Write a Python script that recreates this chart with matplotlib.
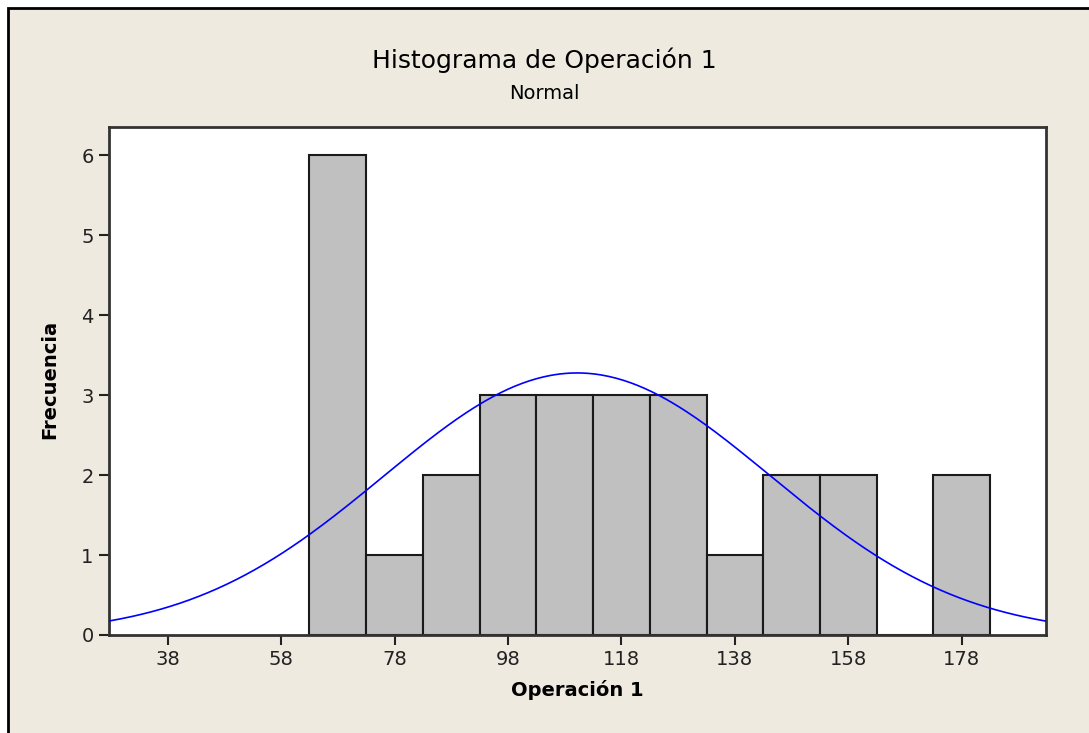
import numpy as np
from matplotlib import pyplot as plt
from matplotlib.patches import Rectangle

# histogram bins (midpoints, width 10) and counts
bin_mids = [68, 78, 88, 98, 108, 118, 128, 138, 148, 158, 168, 178]
counts = [6, 1, 2, 3, 3, 3, 3, 1, 2, 2, 0, 2]
bin_width = 10

# fitted normal curve parameters
fit_mean = 110.2
fit_sd = 34.1

xticks = [38, 58, 78, 98, 118, 138, 158, 178]
yticks = [0, 1, 2, 3, 4, 5, 6]

beige = "#EEEAE0"

fig = plt.figure(figsize=(10.89, 7.33), dpi=100)
fig.patch.set_facecolor("white")
# outer panel with black line on top and left
fig.patches.append(Rectangle((8 / 1089, -0.05), 1.1, (733 - 8) / 733 + 0.05,
                             transform=fig.transFigure, facecolor=beige,
                             edgecolor="black", linewidth=2, zorder=-10))

ax = fig.add_axes([0.1001, 0.1337, 0.9602 - 0.1001, 0.8267 - 0.1337])
ax.set_facecolor("white")

ax.bar(bin_mids, counts, width=bin_width, color="#C0C0C0",
       edgecolor="#1a1a1a", linewidth=1.5, zorder=2)

x = np.linspace(27.65, 192.8, 400)
n = sum(counts)
y = n * bin_width / (fit_sd * np.sqrt(2 * np.pi)) * np.exp(-0.5 * ((x - fit_mean) / fit_sd) ** 2)
ax.plot(x, y, color="#0000ff", linewidth=1.2, zorder=3)

ax.set_xlim(27.65, 192.8)
ax.set_ylim(0, 6.35)
ax.set_xticks(xticks)
ax.set_yticks(yticks)
ax.tick_params(axis="both", direction="out", length=7, width=1.5,
               colors="#222222", labelsize=14, pad=4)
for s in ax.spines.values():
    s.set_linewidth(2)
    s.set_color("#333333")

fig.text(0.5, 0.918, "Histograma de Operación 1", ha="center", va="center",
         fontsize=18)
fig.text(0.5, 0.873, "Normal", ha="center", va="center", fontsize=14)
fig.text(0.5305, 0.059, "Operación 1", ha="center", va="center",
         fontsize=14, fontweight="bold")
fig.text(0.046, 0.482, "Frecuencia", ha="center", va="center", rotation=90,
         fontsize=14, fontweight="bold")

plt.savefig("out.png", dpi=100, facecolor=fig.get_facecolor())
